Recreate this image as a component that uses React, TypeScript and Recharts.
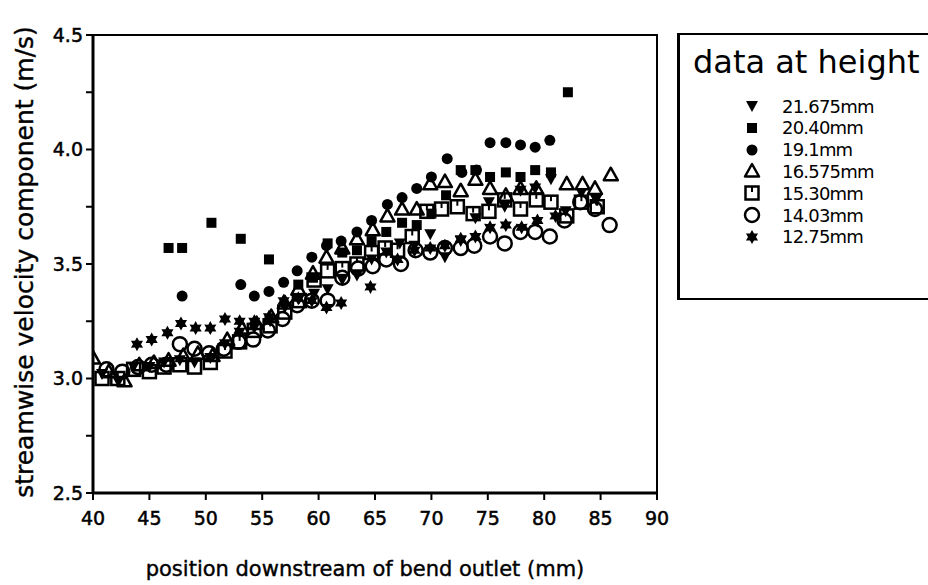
import React from 'react';
import { ScatterChart, Scatter, XAxis, YAxis, ReferenceArea } from 'recharts';

// values: [position (mm), velocity (m/s)]
const h21675 = [
  [40.8, 3.02], [42.2, 2.99], [43.6, 3.05], [45.0, 3.05], [46.3, 3.07], [47.7, 3.08], [49.0, 3.07],
  [50.4, 3.09], [51.7, 3.15], [53.0, 3.2], [54.3, 3.22], [55.7, 3.25], [57.0, 3.31], [58.3, 3.35],
  [59.6, 3.37], [60.8, 3.39], [62.1, 3.43], [63.4, 3.45], [64.7, 3.52], [66.0, 3.55], [67.2, 3.59],
  [68.5, 3.58], [69.9, 3.63], [71.2, 3.53], [72.6, 3.6], [73.9, 3.7], [75.1, 3.77], [76.5, 3.75],
  [77.9, 3.82], [79.2, 3.83], [80.6, 3.87], [81.9, 3.73], [83.3, 3.81], [84.6, 3.78],
];
const h2040 = [
  [46.7, 3.57], [47.9, 3.57], [50.5, 3.68], [53.1, 3.61], [55.6, 3.52], [58.2, 3.41], [59.5, 3.44],
  [60.8, 3.59], [62.1, 3.55], [63.4, 3.56], [64.7, 3.6], [66.0, 3.64], [67.4, 3.68], [68.7, 3.67],
  [70.0, 3.72], [71.3, 3.8], [72.6, 3.91], [73.9, 3.91], [75.2, 3.88], [76.6, 3.9], [77.9, 3.88],
  [79.2, 3.91], [80.6, 3.9], [82.1, 4.25],
];
const h191 = [
  [47.9, 3.36], [53.1, 3.41], [54.3, 3.36], [55.6, 3.38], [56.9, 3.42], [58.1, 3.47], [59.4, 3.53],
  [60.7, 3.58], [62.0, 3.6], [63.4, 3.64], [64.7, 3.69], [66.1, 3.76], [67.4, 3.79], [68.7, 3.83],
  [70.0, 3.88], [71.4, 3.96], [72.7, 3.9], [74.0, 3.91], [75.2, 4.03], [76.6, 4.03], [77.9, 4.02],
  [79.2, 4.01], [80.5, 4.04],
];
const h16575 = [
  [40.0, 3.09], [41.4, 3.03], [42.8, 2.99], [44.1, 3.06], [45.4, 3.07], [46.7, 3.08], [48.0, 3.1],
  [49.3, 3.11], [50.6, 3.1], [51.9, 3.17], [53.2, 3.22], [54.5, 3.24], [55.8, 3.27], [57.0, 3.33],
  [58.2, 3.39], [59.5, 3.46], [60.7, 3.53], [62.1, 3.57], [63.4, 3.61], [64.8, 3.65], [66.1, 3.71],
  [67.4, 3.74], [68.7, 3.74], [69.9, 3.85], [71.2, 3.86], [72.6, 3.82], [73.9, 3.87], [75.2, 3.83],
  [76.6, 3.8], [77.9, 3.83], [79.3, 3.83], [82.0, 3.85], [83.4, 3.85], [84.5, 3.83], [85.9, 3.89],
];
const h1530 = [
  [40.8, 3.0], [42.2, 3.0], [43.6, 3.04], [45.0, 3.03], [46.3, 3.05], [47.7, 3.06], [49.0, 3.05],
  [50.4, 3.07], [51.7, 3.12], [53.0, 3.16], [54.3, 3.21], [55.7, 3.23], [57.0, 3.29], [58.3, 3.34],
  [59.6, 3.43], [60.8, 3.47], [62.1, 3.48], [63.4, 3.5], [64.7, 3.55], [65.9, 3.57], [67.0, 3.56],
  [68.3, 3.62], [69.6, 3.73], [70.9, 3.74], [72.3, 3.75], [73.7, 3.72], [75.1, 3.73], [76.5, 3.78],
  [77.9, 3.74], [79.3, 3.78], [80.6, 3.77], [82.0, 3.71], [83.3, 3.77], [84.7, 3.75],
];
const h1403 = [
  [41.2, 3.04], [42.6, 3.03], [44.0, 3.05], [45.2, 3.06], [46.5, 3.06], [47.7, 3.15], [49.0, 3.13],
  [50.3, 3.11], [51.6, 3.13], [52.9, 3.16], [54.2, 3.17], [55.5, 3.21], [56.8, 3.26], [58.1, 3.32],
  [59.4, 3.34], [60.8, 3.34], [62.1, 3.44], [63.5, 3.48], [64.8, 3.49], [66.0, 3.52], [67.3, 3.5],
  [68.6, 3.56], [69.9, 3.55], [71.2, 3.57], [72.6, 3.57], [73.8, 3.58], [75.2, 3.62], [76.5, 3.59],
  [77.9, 3.64], [79.2, 3.64], [80.5, 3.62], [81.8, 3.69], [83.2, 3.77], [84.5, 3.74], [85.8, 3.67],
];
const h1275 = [
  [43.9, 3.15], [45.2, 3.17], [46.6, 3.2], [47.8, 3.24], [49.1, 3.22], [50.4, 3.22], [51.7, 3.26],
  [53.0, 3.25], [54.3, 3.25], [55.6, 3.27], [56.9, 3.34], [58.2, 3.35], [59.4, 3.34], [60.7, 3.31],
  [62.0, 3.33], [64.6, 3.4], [67.0, 3.52], [68.5, 3.56], [69.9, 3.57], [71.2, 3.58], [72.6, 3.61],
  [73.9, 3.62], [75.2, 3.66], [76.6, 3.67], [78.0, 3.66], [79.4, 3.69], [81.0, 3.71],
];

const seriesNames = ['21.675mm', '20.40mm', '19.1mm', '16.575mm', '15.30mm', '14.03mm', '12.75mm'];
const seriesKinds = ['triDown', 'square', 'dot', 'triUp', 'sqOpen', 'circle', 'star'];
const seriesData = [h21675, h2040, h191, h16575, h1530, h1403, h1275];

const xTicks = [40, 45, 50, 55, 60, 65, 70, 75, 80, 85, 90];
const yTicks = [2.5, 2.75, 3.0, 3.25, 3.5, 3.75, 4.0, 4.25, 4.5];

const toPoints = (arr) => arr.map(([x, y]) => ({ x, y }));

const starPoints = (cx, cy, ro, ri) => {
  const pts = [];
  for (let i = 0; i < 12; i++) {
    const r = i % 2 === 0 ? ro : ri;
    const a = (Math.PI / 6) * i - Math.PI / 2;
    pts.push(`${cx + r * Math.cos(a)},${cy + r * Math.sin(a)}`);
  }
  return pts.join(' ');
};

const Marker = ({ kind, cx, cy }) => {
  if (cx == null || cy == null) return null;
  switch (kind) {
    case 'triDown':
      return <polygon points={`${cx - 6},${cy - 5} ${cx + 6},${cy - 5} ${cx},${cy + 6}`} fill="#000" />;
    case 'square':
      return <rect x={cx - 5} y={cy - 5} width={10} height={10} fill="#000" />;
    case 'dot':
      return <circle cx={cx} cy={cy} r={5.5} fill="#000" />;
    case 'triUp':
      return (
        <polygon
          points={`${cx - 7},${cy + 5.5} ${cx + 7},${cy + 5.5} ${cx},${cy - 7}`}
          fill="none"
          stroke="#000"
          strokeWidth={2.5}
          strokeLinejoin="round"
        />
      );
    case 'sqOpen':
      return (
        <g>
          <rect x={cx - 6.5} y={cy - 6.5} width={13} height={13} fill="none" stroke="#000" strokeWidth={2.5} />
          <line x1={cx} y1={cy - 6.5} x2={cx} y2={cy - 1} stroke="#000" strokeWidth={2} />
        </g>
      );
    case 'circle':
      return <circle cx={cx} cy={cy} r={7} fill="none" stroke="#000" strokeWidth={2.5} />;
    case 'star':
      return <polygon points={starPoints(cx, cy, 7, 4)} fill="#000" />;
    default:
      return null;
  }
};

const fmtY = (v) => (Math.abs(v * 2 - Math.round(v * 2)) < 1e-6 ? v.toFixed(1) : '');

const tickStyle = { fill: '#000', stroke: '#000', strokeWidth: 0.5, fontSize: 19, fontFamily: 'DejaVu Sans' };

const App = () => {
  return (
    <div style={{ position: 'absolute', left: 0, top: 0, width: 928, height: 585, background: '#fff' }}>
      <ScatterChart width={928} height={585} margin={{ top: 35, right: 271, bottom: 52, left: 48 }}>
        <ReferenceArea x1={40} x2={90} y1={2.5} y2={4.5} fill="none" stroke="#000" strokeWidth={2} />
        <XAxis
          type="number"
          dataKey="x"
          domain={[40, 90]}
          ticks={xTicks}
          allowDataOverflow
          height={40}
          tickSize={7}
          tickMargin={12}
          axisLine={{ stroke: '#000', strokeWidth: 3 }}
          tickLine={{ stroke: '#000', strokeWidth: 2 }}
          tick={tickStyle}
          label={{
            content: ({ viewBox }) => (
              <text
                x={viewBox.x + viewBox.width / 2 - 10}
                y={576}
                textAnchor="middle"
                fontSize={21}
                fontFamily="DejaVu Sans"
                fill="#000"
                stroke="#000"
                strokeWidth={0.4}
              >
                position downstream of bend outlet (mm)
              </text>
            ),
          }}
        />
        <YAxis
          type="number"
          dataKey="y"
          domain={[2.5, 4.5]}
          ticks={yTicks}
          allowDataOverflow
          width={45}
          tickSize={7}
          tickMargin={3}
          tickFormatter={fmtY}
          axisLine={{ stroke: '#000', strokeWidth: 3 }}
          tickLine={{ stroke: '#000', strokeWidth: 2 }}
          tick={tickStyle}
          label={{
            content: () => (
              <text
                x={33}
                y={262}
                transform="rotate(-90 33 262)"
                textAnchor="middle"
                fontSize={25}
                fontFamily="DejaVu Sans"
                fill="#000"
                stroke="#000"
                strokeWidth={0.4}
              >
                streamwise velocity component (m/s)
              </text>
            ),
          }}
        />
        {seriesNames.map((name, i) => (
          <Scatter
            key={name}
            name={name}
            data={toPoints(seriesData[i])}
            isAnimationActive={false}
            shape={(p) => <Marker kind={seriesKinds[i]} cx={p.cx} cy={p.cy} />}
          />
        ))}
      </ScatterChart>
      <div
        style={{
          position: 'absolute',
          left: 677,
          top: 33,
          width: 260,
          height: 263,
          border: '2px solid #000',
          borderLeftWidth: 3,
          fontFamily: 'DejaVu Sans',
          color: '#000',
          background: '#fff',
        }}
      >
        <div style={{ position: 'absolute', left: 13, top: 8, fontSize: 32, whiteSpace: 'nowrap' }}>data at height</div>
        {seriesNames.map((name, i) => (
          <div
            key={name}
            style={{ position: 'absolute', left: 62, top: 61 + i * 21.8, height: 20, display: 'flex', alignItems: 'center' }}
          >
            <svg width={20} height={20}>
              <Marker kind={seriesKinds[i]} cx={10} cy={10} />
            </svg>
            <span style={{ marginLeft: 20, fontSize: 18, letterSpacing: -0.8, whiteSpace: 'nowrap' }}>{name}</span>
          </div>
        ))}
      </div>
    </div>
  );
};

export default App;
